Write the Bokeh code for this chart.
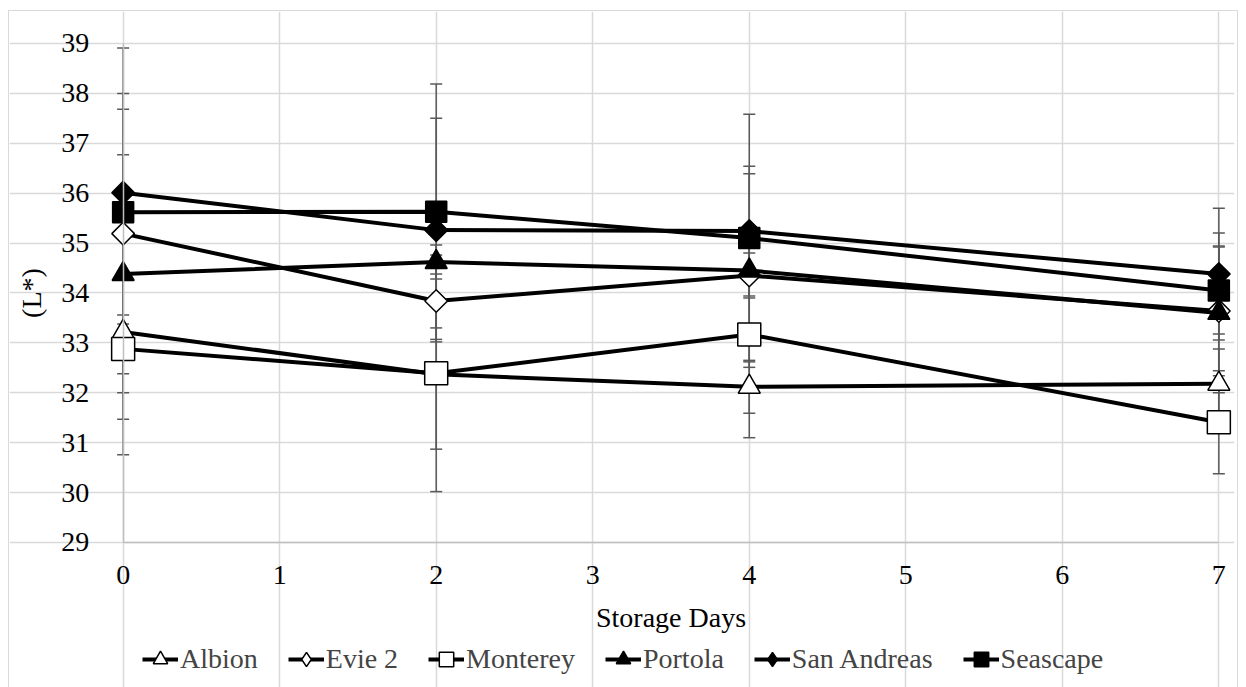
import numpy as np
from bokeh.plotting import figure
from bokeh.models import Range1d, FixedTicker, Legend, LegendItem
from bokeh.embed import file_html
from bokeh.resources import INLINE

# ---- data ----
days = [0, 2, 4, 7]
series_names = ["Albion", "Evie 2", "Monterey", "Portola", "San Andreas", "Seascape"]
albion = [33.22, 32.37, 32.12, 32.18]
evie2 = [35.19, 33.84, 34.35, 33.64]
monterey = [32.88, 32.39, 33.17, 31.41]
portola = [34.38, 34.62, 34.45, 33.60]
san_andreas = [36.01, 35.26, 35.24, 34.38]
seascape = [35.62, 35.63, 35.10, 34.05]

albion_sd = [1.22, 1.50, 0.53, 0.70]
evie2_sd = [3.72, 0.54, 0.45, 1.30]
monterey_sd = [0.50, 2.37, 2.07, 1.03]
portola_sd = [3.62, 0.34, 1.94, 1.60]
san_andreas_sd = [0.76, 2.24, 1.30, 1.32]
seascape_sd = [2.06, 2.56, 2.48, 0.87]

x_ticks = [0, 1, 2, 3, 4, 5, 6, 7]
y_ticks = [29, 30, 31, 32, 33, 34, 35, 36, 37, 38, 39]

values = [albion, evie2, monterey, portola, san_andreas, seascape]
sds = [albion_sd, evie2_sd, monterey_sd, portola_sd, san_andreas_sd, seascape_sd]
# marker style per series: (plot marker, fill, size, angle, legend marker)
styles = [
    ("triangle", "white", 22, 0.0, "triangle"),
    ("square", "white", 16, np.pi / 4, "diamond"),
    ("square", "white", 23, 0.0, "square"),
    ("triangle", "black", 22, 0.0, "triangle"),
    ("square", "black", 16, np.pi / 4, "diamond"),
    ("square", "black", 21, 0.0, "square"),
]

FONT = "Liberation Serif"
GRID = "#d9d9d9"

p = figure(width=1230, height=678, output_backend="svg", toolbar_location=None,
           x_range=Range1d(-0.726, 7.1), y_range=Range1d(26.054, 39.641),
           min_border_left=0, min_border_right=5, min_border_top=0, min_border_bottom=0)
p.margin = (10, 5, 0, 8)
p.styles = {"border": "1px solid #d9d9d9"}
p.outline_line_color = None

p.xaxis.ticker = FixedTicker(ticks=x_ticks)
p.yaxis.ticker = FixedTicker(ticks=y_ticks)
p.xgrid.ticker = FixedTicker(ticks=x_ticks)
p.ygrid.ticker = FixedTicker(ticks=y_ticks)
p.xgrid.bounds = (29, 39)
p.ygrid.bounds = (0, 7)
p.xgrid.grid_line_color = GRID
p.ygrid.grid_line_color = GRID
p.xgrid.grid_line_width = 1.5
p.ygrid.grid_line_width = 1.5

p.xaxis.fixed_location = 29
p.yaxis.fixed_location = 0
p.xaxis.bounds = (0, 7)
p.yaxis.bounds = (29, 39)

for ax in (p.xaxis, p.yaxis):
    ax.axis_line_color = "#bfbfbf"
    ax.axis_line_width = 1.5
    ax.major_tick_line_color = None
    ax.minor_tick_line_color = None
    ax.major_label_text_font = FONT
    ax.major_label_text_font_size = "28px"
    ax.major_label_text_color = "black"
    ax.axis_label_text_font = FONT
    ax.axis_label_text_font_size = "28px"
    ax.axis_label_text_font_style = "normal"
    ax.axis_label_text_color = "black"

p.xaxis.axis_label = "Storage Days"
p.yaxis.axis_label = "(L*)"
p.xaxis.major_label_standoff = 18
p.xaxis.axis_label_standoff = 14
p.yaxis.major_label_standoff = 28
p.yaxis.axis_label_standoff = 12

# error bars (behind markers)
for vals, sd in zip(values, sds):
    lo = [v - s for v, s in zip(vals, sd)]
    hi = [v + s for v, s in zip(vals, sd)]
    p.segment(x0=days, y0=lo, x1=days, y1=hi, line_color="#595959", line_width=1.5)
    p.scatter(x=days + days, y=lo + hi, marker="dash", size=12,
              line_color="#595959", line_width=1.5)

items = []
for name, vals, (mk, fill, sz, ang, lmk) in zip(series_names, values, styles):
    ln = p.line(days, vals, line_color="black", line_width=4)
    sc = p.scatter(days, vals, marker=mk, size=sz, angle=ang,
                   fill_color=fill, line_color="black", line_width=1.5)
    dummy = p.scatter([np.nan], [np.nan], marker=lmk, size=sz,
                      fill_color=fill, line_color="black", line_width=1.5)
    items.append(LegendItem(label=name, renderers=[ln, dummy]))

legend = Legend(items=items, orientation="horizontal", location=(133, 12),
                label_text_font=FONT, label_text_font_size="28px",
                glyph_width=36, glyph_height=36, label_standoff=2, spacing=30,
                padding=0, margin=0, border_line_color=None,
                background_fill_alpha=0)
p.add_layout(legend, "center")

open("out.html", "w").write(file_html(p, INLINE))
